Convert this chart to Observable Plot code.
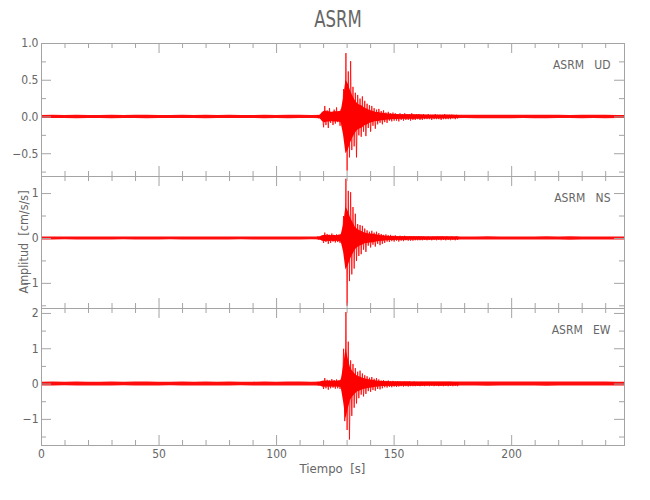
<!DOCTYPE html>
<html><head><meta charset="utf-8">
<script src="https://cdn.jsdelivr.net/npm/d3@7"></script>
<script src="https://cdn.jsdelivr.net/npm/@observablehq/plot@0.6"></script>
<style>
body{margin:0;background:#fff;}
#chart{position:relative;width:650px;height:500px;background:#fff;font-family:"Liberation Sans Narrow","DejaVu Sans Condensed","Roboto",sans-serif;color:#666;}
#chart svg{overflow:visible;position:absolute;left:0;}
#chart svg text{white-space:pre;}
.lab{position:absolute;white-space:pre;color:#666;}
</style></head><body>
<div id="chart"></div>
<script>
// ---------- data ----------
const title = "ASRM";
const station = "ASRM";
const components = ["UD", "NS", "EW"];
const xLabel = "Tiempo  [s]";
const yLabel = "Amplitud  [cm/s/s]";
const xDomain = [0, 248];
const xMajorTicks = [0, 50, 100, 150, 200];
const xMinorTicks = [10, 20, 30, 40, 60, 70, 80, 90, 110, 120, 130, 140, 160, 170, 180, 190, 210, 220, 230, 240];

const udDomain = [-0.81, 1.0];
const udMajor = [1.0, 0.5, 0, -0.5];
const udMinor = [0.75, 0.25, -0.25, -0.75];
const nsDomain = [-1.56, 1.38];
const nsMajor = [1, 0, -1];
const nsMinor = [0.5, -0.5, -1.5];
const ewDomain = [-1.74, 2.14];
const ewMajor = [2, 1, 0, -1];
const ewMinor = [1.5, 0.5, -0.5, -1.5];

// event window: successive peaks (alternating up/down) every 0.5 s starting at 117.5 s
const eventStart = 117.5;
const eventStep = 0.5;
const udEvent = [
  0.02,-0.02, 0.03,-0.02, 0.02,-0.14, 0.15,-0.11, 0.09,-0.15, 0.12,-0.08, 0.07,-0.11, 0.10,-0.09,
  0.13,-0.07, 0.08,-0.12, 0.11,-0.14, 0.38,-0.32, 0.87,-0.73, 0.62,-0.55, 0.76,-0.45, 0.41,-0.40,
  0.33,-0.55, 0.30,-0.25, 0.25,-0.27, 0.28,-0.20, 0.22,-0.26, 0.18,-0.15, 0.16,-0.20, 0.15,-0.12,
  0.12,-0.16, 0.10,-0.10, 0.11,-0.08, 0.08,-0.10, 0.09,-0.07, 0.06,-0.08, 0.07,-0.05, 0.05,-0.06,
  0.06,-0.05, 0.05,-0.05, 0.04,-0.06, 0.05,-0.04, 0.04,-0.05, 0.05,-0.04, 0.04,-0.04, 0.04,-0.05,
  0.05,-0.04, 0.03,-0.04, 0.04,-0.03, 0.04,-0.04, 0.03,-0.04, 0.04,-0.03, 0.03,-0.03, 0.04,-0.03,
  0.03,-0.04, 0.03,-0.03, 0.04,-0.03, 0.03,-0.03, 0.03,-0.04, 0.03,-0.03, 0.04,-0.03, 0.03,-0.03,
  0.03,-0.03, 0.03,-0.02, 0.02,-0.03, 0.03,-0.02, 0.02
];
const nsEvent = [
  0.03,-0.03, 0.02,-0.03, 0.03,-0.10, 0.13,-0.08, 0.10,-0.12, 0.08,-0.10, 0.11,-0.07, 0.07,-0.09,
  0.09,-0.08, 0.08,-0.10, 0.10,-0.12, 0.50,-0.45, 1.33,-1.50, 1.06,-0.95, 1.03,-0.80, 0.70,-0.67,
  0.55,-0.50, 0.32,-0.39, 0.30,-0.35, 0.28,-0.25, 0.22,-0.30, 0.18,-0.16, 0.15,-0.20, 0.17,-0.14,
  0.13,-0.18, 0.15,-0.12, 0.12,-0.15, 0.10,-0.12, 0.08,-0.10, 0.09,-0.07, 0.07,-0.08, 0.08,-0.06,
  0.06,-0.07, 0.07,-0.05, 0.05,-0.07, 0.06,-0.05, 0.05,-0.06, 0.06,-0.04, 0.04,-0.05, 0.05,-0.05,
  0.04,-0.05, 0.05,-0.04, 0.04,-0.04, 0.05,-0.04, 0.04,-0.04, 0.04,-0.03, 0.03,-0.04, 0.04,-0.03,
  0.03,-0.04, 0.04,-0.03, 0.03,-0.04, 0.04,-0.03, 0.03,-0.04, 0.04,-0.03, 0.03,-0.04, 0.04,-0.03,
  0.03,-0.04, 0.04,-0.03, 0.03,-0.04, 0.04,-0.03, 0.03
];
const ewEvent = [
  0.04,-0.04, 0.05,-0.03, 0.04,-0.14, 0.17,-0.12, 0.12,-0.16, 0.10,-0.12, 0.14,-0.10, 0.11,-0.13,
  0.13,-0.12, 0.10,-0.14, 0.15,-0.20, 1.00,-1.05, 2.04,-1.30, 1.20,-1.57, 0.67,-0.90, 0.57,-0.67,
  0.45,-0.55, 0.35,-0.40, 0.38,-0.30, 0.30,-0.35, 0.25,-0.28, 0.22,-0.20, 0.18,-0.22, 0.20,-0.17,
  0.15,-0.19, 0.17,-0.14, 0.13,-0.15, 0.10,-0.12, 0.11,-0.09, 0.09,-0.10, 0.10,-0.08, 0.08,-0.09,
  0.09,-0.07, 0.07,-0.08, 0.08,-0.07, 0.07,-0.06, 0.06,-0.07, 0.07,-0.06, 0.06,-0.07, 0.07,-0.06,
  0.06,-0.06, 0.07,-0.06, 0.06,-0.05, 0.05,-0.06, 0.06,-0.05, 0.05,-0.06, 0.06,-0.05, 0.05,-0.06,
  0.06,-0.05, 0.05,-0.06, 0.06,-0.05, 0.05,-0.06, 0.06,-0.05, 0.05,-0.06, 0.06,-0.05, 0.05,-0.06,
  0.06,-0.05, 0.05,-0.06, 0.06,-0.05, 0.05,-0.06, 0.05
];

// dense core of the event (half-width), every 1 s starting at 117.5 s
const coreStep = 1;
const udCore = [
  0.02,0.02,0.06,0.08,0.07,0.07,0.06,0.07,0.07,0.07,
  0.08,0.25,0.50,0.45,0.35,0.28,0.22,0.18,0.16,0.15,
  0.12,0.11,0.09,0.08,0.07,0.06,0.06,0.05,0.05,0.045,
  0.04,0.04,0.035,0.035,0.035,0.03,0.03,0.03,0.03,0.03,
  0.03,0.03,0.028,0.028,0.028,0.025,0.025,0.025,0.025,0.025,
  0.025,0.024,0.024,0.024,0.023,0.023,0.022,0.022,0.022,0.021,0.02
];
const nsCore = [
  0.03,0.03,0.06,0.07,0.06,0.07,0.06,0.07,0.06,0.07,
  0.08,0.30,0.70,0.60,0.45,0.35,0.25,0.20,0.17,0.15,
  0.12,0.11,0.10,0.10,0.09,0.08,0.07,0.06,0.06,0.05,
  0.05,0.045,0.045,0.04,0.04,0.04,0.04,0.038,0.038,0.036,
  0.036,0.035,0.035,0.034,0.034,0.033,0.033,0.032,0.032,0.032,
  0.031,0.031,0.031,0.03,0.03,0.03,0.03,0.03,0.03,0.03,0.03
];
const ewCore = [
  0.05,0.05,0.08,0.09,0.08,0.09,0.08,0.09,0.08,0.09,
  0.10,0.50,1.00,0.70,0.45,0.35,0.28,0.22,0.20,0.17,
  0.15,0.13,0.12,0.11,0.10,0.09,0.08,0.07,0.07,0.065,
  0.065,0.06,0.06,0.06,0.058,0.058,0.056,0.056,0.055,0.055,
  0.054,0.054,0.053,0.053,0.052,0.052,0.051,0.051,0.05,0.05,
  0.05,0.05,0.05,0.049,0.049,0.048,0.048,0.048,0.047,0.047,0.047
];

// background noise half-width every 5 s (0 .. 250 s)
const noiseStep = 5;
const udNoise = [
  0.020,0.022,0.019,0.024,0.021,0.020,0.023,0.019,0.022,0.024,
  0.021,0.020,0.022,0.021,0.024,0.021,0.022,0.020,0.021,0.023,
  0.021,0.024,0.022,0.020,0.024,0.025,0.025,0.025,0.025,0.025,
  0.025,0.024,0.026,0.023,0.025,0.024,0.022,0.024,0.025,0.023,
  0.024,0.022,0.023,0.025,0.022,0.021,0.023,0.022,0.024,0.021,0.022
];
const nsNoise = [
  0.032,0.034,0.031,0.035,0.033,0.032,0.034,0.030,0.033,0.035,
  0.032,0.031,0.034,0.033,0.035,0.032,0.034,0.031,0.033,0.034,
  0.032,0.035,0.033,0.031,0.035,0.035,0.035,0.035,0.035,0.035,
  0.036,0.035,0.037,0.034,0.036,0.035,0.033,0.035,0.036,0.034,
  0.035,0.033,0.034,0.036,0.034,0.040,0.034,0.033,0.035,0.032,0.033
];
const ewNoise = [
  0.052,0.056,0.050,0.058,0.054,0.052,0.057,0.050,0.055,0.058,
  0.053,0.051,0.056,0.054,0.058,0.053,0.056,0.051,0.054,0.057,
  0.053,0.058,0.055,0.052,0.058,0.060,0.060,0.060,0.060,0.060,
  0.060,0.058,0.061,0.057,0.060,0.058,0.055,0.058,0.060,0.056,
  0.058,0.055,0.057,0.060,0.056,0.055,0.057,0.055,0.058,0.054,0.055
];

// ---------- drawing ----------
const W = 650, ML = 41, MR = 26;
const grey = "#a4a4a4";
const chart = document.getElementById("chart");
const font = '"Liberation Sans Narrow","DejaVu Sans Condensed","Roboto",sans-serif';

function drawPanel({comp, values, core, noise, domain, major, minor, fmt, top, h, last}) {
  const mt = 1, mb = last ? 32 : 1;
  const iw = W - ML - MR;
  const ev = values.map((v, i) => ({t: eventStart + i * eventStep, v}));
  const cr = core.map((a, i) => ({t: eventStart + i * coreStep, a}));
  const nz = noise.map((a, i) => ({t: i * noiseStep, a}));
  const marks = [
    Plot.areaY(nz, {x: "t", y1: d => -d.a, y2: d => d.a, fill: "#ff0000", fillOpacity: 0.95, clip: true}),
    Plot.areaY(cr, {x: "t", y1: d => -d.a, y2: d => d.a, fill: "#ff0000", clip: true}),
    Plot.line(ev, {x: "t", y: "v", stroke: "#ff0000", strokeWidth: 0.8, clip: true}),
    Plot.frame({stroke: grey}),
    Plot.ruleX(xMinorTicks, {stroke: grey, insetBottom: h - 5}),
    Plot.ruleX(xMinorTicks, {stroke: grey, insetTop: h - 5}),
    Plot.ruleX(xMajorTicks, {stroke: grey, insetBottom: h - 10}),
    Plot.ruleX(xMajorTicks, {stroke: grey, insetTop: h - 10}),
    Plot.ruleY(minor, {stroke: grey, insetRight: iw - 5}),
    Plot.ruleY(minor, {stroke: grey, insetLeft: iw - 5}),
    Plot.ruleY(major, {stroke: grey, insetRight: iw - 10}),
    Plot.ruleY(major, {stroke: grey, insetLeft: iw - 10}),
    Plot.axisY(major, {tickSize: 0, tickPadding: 3, tickFormat: fmt, label: null}),
    Plot.text([`${station}   ${comp}`], {frameAnchor: "top-right", dx: -14, dy: 17, textAnchor: "end", fill: "#666"})
  ];
  if (last) marks.push(Plot.axisX(xMajorTicks, {tickSize: 0, tickPadding: 4, label: null}));
  const svg = Plot.plot({
    width: W, height: h + mt + mb,
    marginLeft: ML, marginRight: MR, marginTop: mt, marginBottom: mb,
    x: {domain: xDomain, axis: null},
    y: {domain, axis: null},
    style: {fontFamily: font, fontSize: "12px", color: "#666", background: "transparent", overflow: "visible"},
    marks
  });
  svg.style.top = (top - mt) + "px";
  chart.appendChild(svg);
}

drawPanel({comp: components[0], values: udEvent, core: udCore, noise: udNoise, domain: udDomain, major: udMajor, minor: udMinor, fmt: d3.format(".1f"), top: 43, h: 133, last: false});
drawPanel({comp: components[1], values: nsEvent, core: nsCore, noise: nsNoise, domain: nsDomain, major: nsMajor, minor: nsMinor, fmt: d3.format("d"), top: 176, h: 132, last: false});
drawPanel({comp: components[2], values: ewEvent, core: ewCore, noise: ewNoise, domain: ewDomain, major: ewMajor, minor: ewMinor, fmt: d3.format("d"), top: 308, h: 137, last: true});

function addLabel(text, css) {
  const d = document.createElement("div");
  d.className = "lab";
  d.textContent = text;
  Object.assign(d.style, css);
  chart.appendChild(d);
  return d;
}
addLabel(title, {left: "0px", width: "676px", top: "6px", textAlign: "center", fontSize: "23px", transform: "scaleX(0.8)"});
addLabel(xLabel, {left: "41px", width: "583px", top: "461px", textAlign: "center", fontSize: "13px"});
addLabel(yLabel, {left: "-31px", width: "110px", top: "234px", textAlign: "center", fontSize: "12.5px", transform: "rotate(-90deg)", transformOrigin: "50% 50%", lineHeight: "16px"});
</script></body></html>
